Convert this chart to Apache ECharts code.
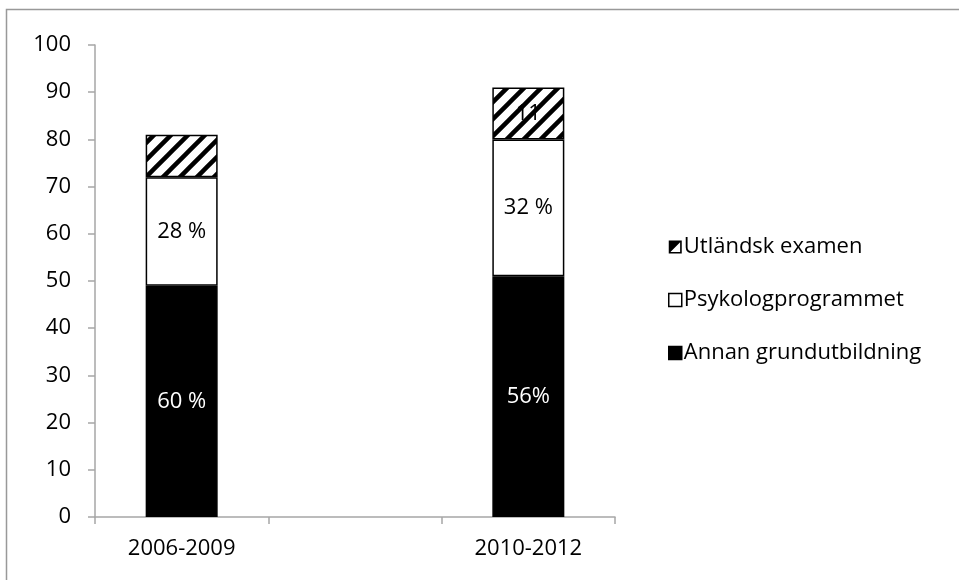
<!DOCTYPE html>
<html>
<head>
<meta charset="utf-8">
<script src="https://cdn.jsdelivr.net/npm/echarts@6/dist/echarts.min.js"></script>
<style>
  html, body { margin: 0; padding: 0; background: #fff; }
  #main { width: 959px; height: 580px; }
</style>
</head>
<body>
<div id="main"></div>
<script>
// data (middle category is an empty slot)
var periods = ['2006-2009', '', '2010-2012'];
var annan = [49, null, 51];
var psyko = [23, null, 29];
var utland = [9, null, 11];
var annanLabels = ['60 %', '', '56%'];
var psykoLabels = ['28 %', '', '32 %'];
var utlandLabels = ['', '', '11'];
var yTicks = [0, 100, 10]; // min, max, interval

// diagonal hatch pattern for "Utländsk examen"
function makeHatch() {
    var p = 17;
    var c = document.createElement('canvas');
    c.width = p;
    c.height = p;
    var ctx = c.getContext('2d');
    ctx.fillStyle = '#fff';
    ctx.fillRect(0, 0, p, p);
    ctx.strokeStyle = '#000';
    ctx.lineWidth = 4.5;
    ctx.beginPath();
    ctx.moveTo(0, p); ctx.lineTo(p, 0);
    ctx.moveTo(-2, 2); ctx.lineTo(2, -2);
    ctx.moveTo(p - 2, p + 2); ctx.lineTo(p + 2, p - 2);
    ctx.stroke();
    return c;
}

var font = '"Open Sans", sans-serif';
var fs = 22;
var axisGrey = '#a6a6a6';

var myChart = echarts.init(document.getElementById('main'));

function labelFrom(arr, color) {
    return {
        show: true,
        position: 'inside',
        color: color,
        fontFamily: font,
        fontSize: fs,
        formatter: function (p) { return arr[p.dataIndex]; }
    };
}

var option = {
    animation: false,
    backgroundColor: '#fff',
    graphic: [{
        type: 'rect',
        shape: { x: 6.5, y: 9.5, width: 1000, height: 1000 },
        style: { fill: 'none', stroke: '#999', lineWidth: 1.5 },
        silent: true
    }],
    grid: { left: 95, right: 344, top: 45, bottom: 63 },
    legend: {
        orient: 'vertical',
        left: 663,
        top: 231,
        itemWidth: 13,
        itemHeight: 13,
        itemGap: 31,
        textStyle: { fontFamily: font, fontSize: fs, color: '#000', padding: [0, 0, 0, -3] },
        data: [
            {
                name: 'Utländsk examen',
                icon: 'path://M0,0H12V12H0Z M1.5,1.5V10.5H10.5V1.5Z M1.5,1.5H10.5L1.5,10.5Z',
                itemStyle: { color: '#000', borderWidth: 0 }
            },
            { name: 'Psykologprogrammet', icon: 'rect', itemStyle: { color: '#fff', borderColor: '#000', borderWidth: 1.5 } },
            { name: 'Annan grundutbildning', icon: 'rect', itemStyle: { color: '#000', borderColor: '#000', borderWidth: 1.5 } }
        ]
    },
    xAxis: {
        type: 'category',
        data: periods,
        axisLine: { lineStyle: { color: axisGrey, width: 1.5 } },
        axisTick: { show: true, length: 7, lineStyle: { color: axisGrey, width: 1.5 } },
        axisLabel: { color: '#000', fontFamily: font, fontSize: fs, margin: 21 }
    },
    yAxis: {
        type: 'value',
        min: yTicks[0],
        max: yTicks[1],
        interval: yTicks[2],
        splitLine: { show: false },
        axisLine: { show: true, lineStyle: { color: axisGrey, width: 1.5 } },
        axisTick: { show: true, length: 7, lineStyle: { color: axisGrey, width: 1.5 } },
        axisLabel: { color: '#000', fontFamily: font, fontSize: fs, margin: 24 }
    },
    series: [
        {
            name: 'Annan grundutbildning',
            type: 'bar',
            stack: 'total',
            barWidth: 72,
            data: annan,
            itemStyle: { color: '#000', borderColor: '#000', borderWidth: 1.5 },
            label: labelFrom(annanLabels, '#fff')
        },
        {
            name: 'Psykologprogrammet',
            type: 'bar',
            stack: 'total',
            barWidth: 72,
            data: psyko,
            itemStyle: { color: '#fff', borderColor: '#000', borderWidth: 1.5 },
            label: labelFrom(psykoLabels, '#000')
        },
        {
            name: 'Utländsk examen',
            type: 'bar',
            stack: 'total',
            barWidth: 72,
            data: utland,
            itemStyle: { color: { image: makeHatch(), repeat: 'repeat' }, borderColor: '#000', borderWidth: 1.5 },
            label: labelFrom(utlandLabels, '#000')
        }
    ]
};

option && myChart.setOption(option);
</script>
</body>
</html>
